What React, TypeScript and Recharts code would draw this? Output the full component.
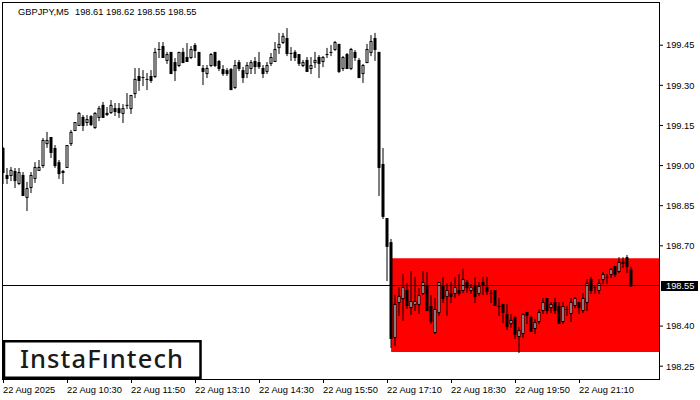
import React from 'react';
import { ComposedChart, Bar, XAxis, YAxis, ReferenceArea, ReferenceLine } from 'recharts';

const opens = [
  199.064, 198.963, 198.963, 198.978, 198.933, 198.963, 198.881, 198.918, 198.952, 198.982,
  199.000, 199.082, 199.105, 199.064, 199.011, 198.978, 198.993, 199.082, 199.131, 199.150,
  199.180, 199.161, 199.183, 199.142, 199.180, 199.225, 199.195, 199.198, 199.213, 199.213,
  199.195, 199.225, 199.213, 199.269, 199.333, 199.329, 199.322, 199.333, 199.333, 199.434,
  199.445, 199.393, 199.423, 199.385, 199.374, 199.423, 199.404, 199.404, 199.449, 199.423,
  199.363, 199.344, 199.374, 199.423, 199.389, 199.359, 199.355, 199.359, 199.292, 199.385,
  199.355, 199.344, 199.363, 199.389, 199.385, 199.363, 199.352, 199.382, 199.389, 199.441,
  199.460, 199.475, 199.419, 199.423, 199.415, 199.374, 199.393, 199.363, 199.385, 199.404,
  199.389, 199.415, 199.423, 199.434, 199.453, 199.363, 199.415, 199.363, 199.423, 199.393,
  199.344, 199.385, 199.423, 199.475, 199.423, 199.004, 198.802, 198.712, 198.357, 198.488,
  198.503, 198.533, 198.469, 198.481, 198.481, 198.522, 198.548, 198.473, 198.376, 198.451,
  198.548, 198.511, 198.522, 198.522, 198.533, 198.533, 198.563, 198.533, 198.548, 198.522,
  198.563, 198.544, 198.522, 198.533, 198.473, 198.481, 198.443, 198.410, 198.432, 198.361,
  198.372, 198.451, 198.432, 198.391, 198.417, 198.458, 198.503, 198.469, 198.488, 198.473,
  198.417, 198.462, 198.447, 198.477, 198.488, 198.458, 198.488, 198.574, 198.544, 198.533,
  198.574, 198.582, 198.593, 198.623, 198.604, 198.634, 198.656, 198.610,
];

const highs = [
  199.068, 198.989, 198.993, 198.989, 198.989, 198.974, 198.937, 198.974, 199.011, 199.019,
  199.101, 199.124, 199.105, 199.075, 199.019, 198.982, 199.075, 199.131, 199.161, 199.198,
  199.187, 199.187, 199.187, 199.198, 199.221, 199.236, 199.217, 199.243, 199.232, 199.232,
  199.228, 199.269, 199.262, 199.363, 199.363, 199.355, 199.344, 199.355, 199.438, 199.460,
  199.460, 199.423, 199.423, 199.400, 199.423, 199.438, 199.456, 199.445, 199.456, 199.423,
  199.374, 199.374, 199.419, 199.423, 199.393, 199.374, 199.363, 199.363, 199.393, 199.393,
  199.367, 199.385, 199.393, 199.404, 199.423, 199.374, 199.385, 199.419, 199.460, 199.494,
  199.494, 199.512, 199.441, 199.430, 199.415, 199.393, 199.404, 199.404, 199.423, 199.411,
  199.408, 199.438, 199.449, 199.464, 199.453, 199.408, 199.419, 199.438, 199.430, 199.400,
  199.378, 199.453, 199.486, 199.494, 199.423, 199.064, 198.802, 198.724, 198.514, 198.544,
  198.593, 198.559, 198.604, 198.582, 198.540, 198.604, 198.600, 198.514, 198.503, 198.563,
  198.582, 198.559, 198.563, 198.582, 198.593, 198.612, 198.570, 198.555, 198.582, 198.563,
  198.582, 198.582, 198.533, 198.533, 198.503, 198.481, 198.481, 198.443, 198.436, 198.395,
  198.447, 198.451, 198.436, 198.425, 198.462, 198.503, 198.503, 198.488, 198.503, 198.488,
  198.488, 198.473, 198.503, 198.507, 198.488, 198.522, 198.574, 198.582, 198.548, 198.574,
  198.600, 198.593, 198.615, 198.623, 198.656, 198.656, 198.664, 198.620,
];

const lows = [
  198.933, 198.933, 198.944, 198.918, 198.929, 198.888, 198.832, 198.899, 198.937, 198.982,
  198.993, 199.068, 199.030, 198.993, 198.952, 198.933, 198.993, 199.075, 199.131, 199.150,
  199.131, 199.150, 199.150, 199.139, 199.168, 199.180, 199.187, 199.195, 199.187, 199.180,
  199.161, 199.213, 199.195, 199.254, 199.281, 199.299, 199.284, 199.311, 199.329, 199.404,
  199.404, 199.382, 199.344, 199.318, 199.370, 199.385, 199.389, 199.400, 199.404, 199.374,
  199.303, 199.329, 199.370, 199.370, 199.355, 199.337, 199.337, 199.284, 199.288, 199.355,
  199.311, 199.329, 199.344, 199.344, 199.363, 199.329, 199.344, 199.374, 199.389, 199.419,
  199.456, 199.411, 199.393, 199.393, 199.374, 199.370, 199.352, 199.344, 199.367, 199.329,
  199.370, 199.404, 199.411, 199.430, 199.348, 199.355, 199.363, 199.359, 199.393, 199.329,
  199.311, 199.385, 199.411, 199.393, 198.888, 198.802, 198.570, 198.320, 198.327, 198.440,
  198.421, 198.466, 198.443, 198.458, 198.447, 198.518, 198.458, 198.410, 198.372, 198.440,
  198.488, 198.440, 198.488, 198.507, 198.514, 198.526, 198.526, 198.522, 198.488, 198.514,
  198.518, 198.518, 198.488, 198.477, 198.440, 198.413, 198.387, 198.395, 198.354, 198.301,
  198.357, 198.410, 198.380, 198.372, 198.410, 198.447, 198.447, 198.451, 198.447, 198.410,
  198.410, 198.440, 198.417, 198.469, 198.447, 198.451, 198.458, 198.522, 198.522, 198.522,
  198.559, 198.559, 198.582, 198.585, 198.600, 198.619, 198.600, 198.550,
];

const closes = [
  198.974, 198.952, 198.982, 198.944, 198.974, 198.888, 198.914, 198.963, 198.993, 198.993,
  199.094, 199.094, 199.049, 199.000, 198.970, 198.974, 199.075, 199.124, 199.161, 199.195,
  199.150, 199.172, 199.153, 199.195, 199.213, 199.180, 199.191, 199.225, 199.202, 199.198,
  199.213, 199.225, 199.262, 199.322, 199.318, 199.329, 199.322, 199.318, 199.423, 199.434,
  199.404, 199.415, 199.344, 199.355, 199.423, 199.385, 199.389, 199.434, 199.430, 199.374,
  199.352, 199.363, 199.415, 199.374, 199.363, 199.344, 199.344, 199.284, 199.374, 199.363,
  199.329, 199.374, 199.385, 199.370, 199.370, 199.344, 199.374, 199.404, 199.434, 199.453,
  199.483, 199.419, 199.419, 199.404, 199.382, 199.385, 199.352, 199.374, 199.393, 199.382,
  199.404, 199.415, 199.423, 199.460, 199.352, 199.404, 199.363, 199.434, 199.404, 199.329,
  199.374, 199.434, 199.464, 199.434, 198.993, 198.810, 198.698, 198.354, 198.481, 198.511,
  198.544, 198.477, 198.492, 198.492, 198.514, 198.563, 198.458, 198.417, 198.462, 198.563,
  198.503, 198.533, 198.511, 198.544, 198.522, 198.574, 198.544, 198.544, 198.511, 198.548,
  198.552, 198.529, 198.522, 198.477, 198.473, 198.451, 198.398, 198.421, 198.369, 198.383,
  198.443, 198.440, 198.380, 198.413, 198.451, 198.488, 198.458, 198.481, 198.458, 198.410,
  198.473, 198.462, 198.488, 198.503, 198.469, 198.503, 198.559, 198.533, 198.544, 198.559,
  198.593, 198.582, 198.612, 198.593, 198.638, 198.638, 198.623, 198.550,
];

const timeTickIndex = [0, 16, 32, 48, 64, 80, 96, 112, 128, 144];
const timeTickLabels = [
  '22 Aug 2025', '22 Aug 10:30', '22 Aug 11:50', '22 Aug 13:10', '22 Aug 14:30',
  '22 Aug 15:50', '22 Aug 17:10', '22 Aug 18:30', '22 Aug 19:50', '22 Aug 21:10',
];
const priceTicks = [198.25, 198.4, 198.55, 198.7, 198.85, 199.0, 199.15, 199.3, 199.45];
const lastPrice = 198.55;
const titleText = 'GBPJPY,M5  198.61 198.62 198.55 198.55';
const logoText = 'InstaFıntech';
const zoneStartIndex = 96.9;
const zoneTop = 198.654;
const zoneBottom = 198.303;

const X_DOMAIN: [number, number] = [-0.125, 163.875];
const Y_DOMAIN: [number, number] = [198.2022, 199.6077];
const FONT = '"Liberation Sans", Arial, sans-serif';
const FS = 9.3;

const data = opens.map((o, i) => ({
  i,
  o,
  h: highs[i],
  l: lows[i],
  c: closes[i],
  range: [lows[i], highs[i]],
}));

const Candle = (props: any) => {
  const { x, y, width, height, payload } = props;
  if (x == null || y == null || !payload) return null;
  const { o, h, l, c } = payload;
  const top = Math.min(y, y + height);
  const hp = Math.abs(height);
  const cx = x + width / 2;
  const span = h - l;
  const py = (p: number) => (span === 0 ? top : top + ((h - p) / span) * hp);
  const bTop = py(Math.max(o, c));
  const bBot = py(Math.min(o, c));
  return (
    <g>
      <rect x={cx - 0.5} y={top - 0.5} width={1} height={hp + 1} fill="#000" />
      {c > o ? (
        <rect x={cx - 1} y={bTop} width={2} height={Math.max(bBot - bTop, 0)} fill="#fff" stroke="#000" strokeWidth={1} />
      ) : (
        <rect x={cx - 1.5} y={bTop - 0.5} width={3} height={bBot - bTop + 1} fill="#000" />
      )}
    </g>
  );
};

const TimeTick = (props: any) => {
  const { x, payload } = props;
  const idx = timeTickIndex.indexOf(payload.value);
  return (
    <text x={x - 0.5} y={392.5} fontSize={FS} fontFamily={FONT} fill="#000" textAnchor="start">
      {idx >= 0 ? timeTickLabels[idx] : ''}
    </text>
  );
};

const PriceTick = (props: any) => {
  const { x, y, payload } = props;
  return (
    <text x={x} y={y + 3.3} fontSize={FS} fontFamily={FONT} fill="#000" textAnchor="start">
      {Number(payload.value).toFixed(2)}
    </text>
  );
};

const Overlay = (props: any) => {
  const { x, y, width, height } = props;
  const left = x - 0.5;
  const topY = y - 0.5;
  return (
    <g>
      <rect x={left} y={topY} width={width + 1} height={height + 1} fill="none" stroke="#000" strokeWidth={1} />
      <text x={18} y={14.5} fontSize={FS} fontFamily={FONT} fill="#000">
        {titleText.split('  ')[0]}
        <tspan dx={6}>{titleText.split('  ')[1]}</tspan>
      </text>
      <rect x={4} y={341.25} width={196.5} height={36.5} fill="#fff" stroke="#000" strokeWidth={2.5} />
      <text x={102} y={368.3} fontSize={25.5} fontFamily='"Noto Sans", sans-serif' fontWeight={500} letterSpacing={1.1} fill="#1a1a1a" textAnchor="middle">
        {logoText}
      </text>
    </g>
  );
};

const PriceMarker = (props: any) => {
  const { viewBox } = props;
  if (!viewBox) return null;
  const yy = Math.floor(viewBox.y) + 0.5;
  const xr = viewBox.x + viewBox.width;
  return (
    <g>
      <line x1={3} x2={xr} y1={yy} y2={yy} stroke="#000" strokeWidth={1} />
      <rect x={xr + 2} y={yy - 4.5} width={37} height={10} fill="#000" />
      <text x={xr + 7} y={yy + 3.8} fontSize={FS} fontFamily={FONT} fill="#fff" textAnchor="start">
        {lastPrice.toFixed(2)}
      </text>
    </g>
  );
};

export default function App() {
  return (
    <div style={{ position: 'absolute', left: 0, top: 0, width: 700, height: 400, background: '#fff' }}>
      <ComposedChart
        width={700}
        height={400}
        data={data}
        margin={{ top: 3, right: 0, bottom: 0, left: 3 }}
        style={{ background: '#fff' }}
      >
        <XAxis
          dataKey="i"
          type="number"
          domain={X_DOMAIN}
          allowDataOverflow
          ticks={timeTickIndex}
          interval={0}
          height={21}
          tickSize={4}
          axisLine={false}
          tickLine={{ stroke: '#000' }}
          tick={<TimeTick />}
        />
        <YAxis
          type="number"
          orientation="right"
          domain={Y_DOMAIN}
          allowDataOverflow
          ticks={priceTicks.filter((t) => t !== lastPrice)}
          interval={0}
          width={41}
          tickSize={4}
          tickMargin={3}
          axisLine={false}
          tickLine={{ stroke: '#000' }}
          tick={<PriceTick />}
        />
        <ReferenceArea
          x1={zoneStartIndex}
          x2={X_DOMAIN[1]}
          y1={zoneBottom}
          y2={zoneTop}
          fill="#ff0000"
          fillOpacity={1}
          stroke="none"
          ifOverflow="visible"
        />
        <ReferenceLine
          y={lastPrice}
          stroke="none"
          strokeWidth={0}
          ifOverflow="visible"
          label={<PriceMarker />}
        />
        <Bar dataKey="range" barSize={3} isAnimationActive={false} shape={(p: any) => <Candle {...p} />} />
        <ReferenceArea
          x1={X_DOMAIN[0]}
          x2={X_DOMAIN[1]}
          y1={Y_DOMAIN[0]}
          y2={Y_DOMAIN[1]}
          ifOverflow="visible"
          shape={(p: any) => <Overlay {...p} />}
        />
      </ComposedChart>
    </div>
  );
}
